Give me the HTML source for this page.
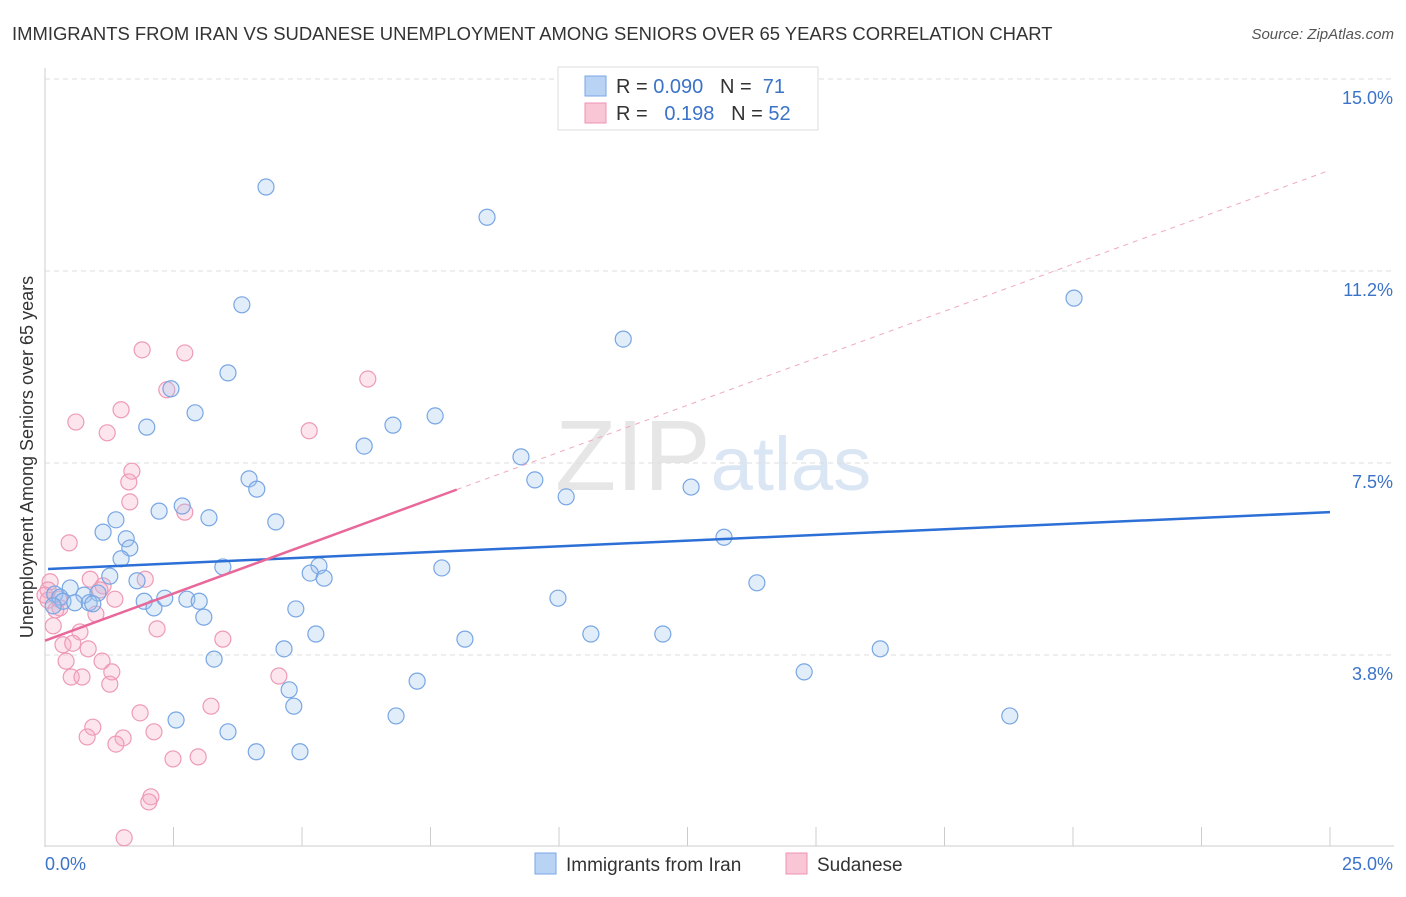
<!DOCTYPE html>
<html><head><meta charset="utf-8"><style>
body{margin:0;background:#fff;font-family:"Liberation Sans",sans-serif}
svg text{font-family:"Liberation Sans",sans-serif}
</style></head><body>
<svg id="c" width="1406" height="892">
<text x="12" y="40" font-size="18.45" fill="#333">IMMIGRANTS FROM IRAN VS SUDANESE UNEMPLOYMENT AMONG SENIORS OVER 65 YEARS CORRELATION CHART</text>
<text x="1394" y="39" font-size="15" fill="#555" text-anchor="end" font-style="italic">Source: ZipAtlas.com</text>
<text transform="translate(33,457) rotate(-90)" font-size="18" fill="#333" text-anchor="middle">Unemployment Among Seniors over 65 years</text>
<text x="555" y="490" font-size="100" fill="#e6e6e6" font-family="Liberation Serif">ZIP<tspan fill="#dbe6f4" font-family="Liberation Sans" font-size="76">atlas</tspan></text>
<g id="grid"></g><g id="axes"></g><g id="pts"></g><g id="trend"></g>
<g>
<rect x="558" y="67" width="260" height="63" fill="#fff" stroke="#ddd"/>
<rect x="585" y="76" width="21" height="20" fill="#b9d3f5" stroke="#7aa6e6"/>
<rect x="585" y="103" width="21" height="20" fill="#f9c6d6" stroke="#ef93b1"/>
<text x="616" y="93" font-size="20" fill="#333" xml:space="preserve">R = <tspan fill="#3b73c9">0.090</tspan>   N =  <tspan fill="#3b73c9">71</tspan></text>
<text x="616" y="120" font-size="20" fill="#333" xml:space="preserve">R =   <tspan fill="#3b73c9">0.198</tspan>   N = <tspan fill="#3b73c9">52</tspan></text>
</g>
<g>
<rect x="535" y="853" width="21" height="21" fill="#b9d3f5" stroke="#7aa6e6"/>
<text x="566" y="871" font-size="19" fill="#333">Immigrants from Iran</text>
<rect x="786" y="853" width="21" height="21" fill="#f9c6d6" stroke="#ef93b1"/>
<text x="817" y="871" font-size="19" fill="#333">Sudanese</text>
</g>
</svg>
<script>
const yTicks=[3.75,7.5,11.25,15];
const yTickLabels=["3.8%","7.5%","11.2%","15.0%"];
const blueX=[266,487,242,1074,623,228,171,195,147,435,393,364,521,535,566,691,249,257,182,159,209,276,116,103,126,130,121,724,223,110,137,319,310,324,442,757,70,55,60,84,98,63,75,89,93,53,144,154,165,187,199,204,296,558,316,465,591,663,284,880,214,804,417,289,294,176,396,1010,228,256,300].map(p=>+((p-45)/1285*25).toFixed(2));
const blueY=[187,217,305,298,339,373,389,413,427,416,425,446,457,480,497,487,479,489,506,511,518,522,520,532,539,548,559,537,567,576,581,566,573,578,568,583,588,594,597,595,593,601,603,603,604,606,601,608,598,599,601,617,609,598,634,639,634,634,649,649,659,672,681,690,706,720,716,716,732,752,752].map(p=>+((847-p)/51.2).toFixed(2));
const pinkX=[142,185,368,167,121,76,107,309,132,129,130,185,69,145,90,103,50,48,115,60,96,80,157,223,63,73,88,102,66,112,71,82,279,110,211,140,93,87,154,123,116,173,198,151,149,124,53,59,48,45,56,100].map(p=>+((p-45)/1285*25).toFixed(2));
const pinkY=[350,353,379,390,410,422,433,431,471,482,502,512,543,579,579,586,582,590,599,608,614,632,629,639,645,643,649,661,661,672,677,677,676,684,706,713,727,737,732,738,744,759,757,797,802,838,626,599,600,595,610,590].map(p=>+((847-p)/51.2).toFixed(2));
const blueTrend=[[0.06,5.43],[25,6.54]];
const pinkTrend=[[0,4.03],[8.01,6.98]];
const pinkExt=[[8.01,6.98],[25,13.22]];
const sx=v=>45+v/25*1285, sy=v=>847-v*51.2;
const NS="http://www.w3.org/2000/svg";
function mk(t,a,p){const e=document.createElementNS(NS,t);for(const k in a)e.setAttribute(k,a[k]);document.getElementById(p).appendChild(e);return e;}
yTicks.forEach((v,i)=>{
 const l=mk('line',{x1:45,x2:1394,y1:sy(v),y2:sy(v),stroke:'#ddd','stroke-dasharray':'5,4'},'grid');
 
 
 const t=mk('text',{x:1393,y:sy(v)+25,'font-size':18,fill:'#3b73c9','text-anchor':'end'},'axes');t.textContent=yTickLabels[i];
 
 
});
mk('line',{x1:45,x2:45,y1:68,y2:847,stroke:'#ccc'},'axes');
mk('line',{x1:45,x2:1394,y1:846,y2:846,stroke:'#ccc'},'axes');
for(let i=0;i<=10;i++){const l=mk('line',{x1:sx(i*2.5),x2:sx(i*2.5),y1:827,y2:846,stroke:'#ccc'},'axes');
 
 }
let t=mk('text',{x:45,y:870,'font-size':18,fill:'#3b73c9'},'axes');t.textContent='0.0%';


t=mk('text',{x:1393,y:870,'font-size':18,fill:'#3b73c9','text-anchor':'end'},'axes');t.textContent='25.0%';


pinkX.forEach((x,i)=>{const c=mk('circle',{cx:sx(x),cy:sy(pinkY[i]),r:8,fill:'rgba(246,170,196,0.3)',stroke:'#ee9ab6','stroke-width':1.2},'pts');
 
 });
blueX.forEach((x,i)=>{const c=mk('circle',{cx:sx(x),cy:sy(blueY[i]),r:8,fill:'rgba(160,196,240,0.3)',stroke:'#78a6e4','stroke-width':1.2},'pts');
 
 });
function ln(d,st,w,da,n){const l=mk('line',{x1:sx(d[0][0]),y1:sy(d[0][1]),x2:sx(d[1][0]),y2:sy(d[1][1]),stroke:st,'stroke-width':w},'trend');if(da)l.setAttribute('stroke-dasharray',da);
 
 }
ln(pinkExt,'#f0a8c0',1,'5,5','sudanese-trend-extension');
ln(blueTrend,'#2c6fd6',2.5,null,'iran-trend-line');
ln(pinkTrend,'#e8689a',2.5,null,'sudanese-trend-line');
</script>
</body></html>
